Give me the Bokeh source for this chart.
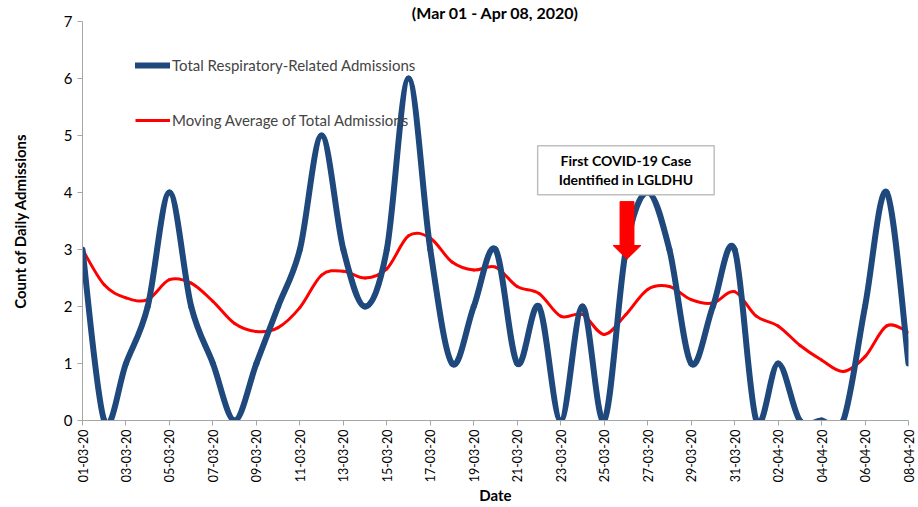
import numpy as np
from bokeh.plotting import figure
from bokeh.models import FixedTicker, Legend, LegendItem, Range1d, Title
from bokeh.core.properties import value
from bokeh.embed import file_html
from bokeh.resources import INLINE

# ---------------- data ----------------
dates = ["01-03-20", "02-03-20", "03-03-20", "04-03-20", "05-03-20", "06-03-20",
         "07-03-20", "08-03-20", "09-03-20", "10-03-20", "11-03-20", "12-03-20",
         "13-03-20", "14-03-20", "15-03-20", "16-03-20", "17-03-20", "18-03-20",
         "19-03-20", "20-03-20", "21-03-20", "22-03-20", "23-03-20", "24-03-20",
         "25-03-20", "26-03-20", "27-03-20", "28-03-20", "29-03-20", "30-03-20",
         "31-03-20", "01-04-20", "02-04-20", "03-04-20", "04-04-20", "05-04-20",
         "06-04-20", "07-04-20", "08-04-20"]
admissions = [3, 0, 1, 2, 4, 2, 1, 0, 1, 2, 3, 5, 3, 2, 3, 6, 3, 1, 2, 3,
              1, 2, 0, 2, 0, 3, 4, 3, 1, 2, 3, 0, 1, 0, 0, 0, 2, 4, 1]
moving_avg = [3.00, 2.38, 2.15, 2.12, 2.47, 2.41, 2.09, 1.70, 1.56, 1.63,
              1.98, 2.55, 2.62, 2.50, 2.66, 3.24, 3.20, 2.78, 2.64, 2.69,
              2.35, 2.23, 1.83, 1.86, 1.51, 1.86, 2.30, 2.35, 2.12, 2.06,
              2.26, 1.83, 1.66, 1.32, 1.06, 0.86, 1.12, 1.66, 1.55]
y_ticks = [0, 1, 2, 3, 4, 5, 6, 7]
note_lines = ["First COVID-19 Case", "Identified in LGLDHU"]
first_case_day = "26-03-20"

FONT = "Lato"
BLUE = "#1F497D"
RED = "#FF0000"

x_idx = list(range(len(dates)))


def smooth_segments(xs, ys):
    """Bezier control points (Catmull-Rom style) like a spreadsheet's smoothed line."""
    x = np.asarray(xs, float)
    y = np.asarray(ys, float)
    n = len(x)
    xp = np.concatenate([[x[0]], x, [x[-1]]])
    yp = np.concatenate([[y[0]], y, [y[-1]]])
    p0x, p1x, p2x, p3x = xp[0:n - 1], xp[1:n], xp[2:n + 1], xp[3:n + 2]
    p0y, p1y, p2y, p3y = yp[0:n - 1], yp[1:n], yp[2:n + 1], yp[3:n + 2]
    return dict(x0=p1x, y0=p1y, x1=p2x, y1=p2y,
                cx0=p1x + (p2x - p0x) / 6, cy0=p1y + (p2y - p0y) / 6,
                cx1=p2x - (p3x - p1x) / 6, cy1=p2y - (p3y - p1y) / 6)


p = figure(width=918, height=507, x_range=Range1d(0, len(dates) - 1),
           y_range=Range1d(0, 7), output_backend="svg", toolbar_location=None,
           min_border_left=82, min_border_right=10, min_border_top=0,
           min_border_bottom=80, background_fill_color="white",
           border_fill_color="white", outline_line_color=None)

p.title = Title(text="(Mar 01 - Apr 08, 2020)", align="center",
                text_font=FONT, text_font_size="16px", text_font_style="bold",
                text_color="black", standoff=0, offset=0)

p.xgrid.visible = False
p.ygrid.visible = False

# axes
for ax in (p.xaxis[0], p.yaxis[0]):
    ax.axis_line_color = "#A6A6A6"
    ax.major_tick_line_color = "#A6A6A6"
    ax.minor_tick_line_color = None
    ax.major_tick_in = 0
    ax.major_tick_out = 5
    ax.major_label_text_font = FONT
    ax.major_label_text_color = "black"
    ax.axis_label_text_font = FONT
    ax.axis_label_text_font_style = "bold"
    ax.axis_label_text_color = "black"

p.yaxis.ticker = FixedTicker(ticks=y_ticks)
p.yaxis.major_label_text_font_size = "15px"
p.yaxis.axis_label = "Count of Daily Admissions"
p.yaxis.axis_label_text_font_size = "15px"
p.yaxis.axis_label_standoff = 32

p.xaxis.ticker = FixedTicker(ticks=x_idx[::2])
p.xaxis.major_label_overrides = {i: dates[i] for i in x_idx}
p.xaxis.major_label_orientation = np.pi / 2
p.xaxis.major_label_text_font_size = "12.5px"
p.xaxis.major_label_standoff = 4
p.xaxis.axis_label = "Date"
p.xaxis.axis_label_text_font_size = "15px"
p.xaxis.axis_label_standoff = 1

# smoothed lines
ma = smooth_segments(x_idx, moving_avg)
p.bezier(source=ma, x0="x0", y0="y0", x1="x1", y1="y1", cx0="cx0", cy0="cy0",
         cx1="cx1", cy1="cy1", line_color=RED, line_width=3, line_cap="round")
adm = smooth_segments(x_idx, admissions)
p.bezier(source=adm, x0="x0", y0="y0", x1="x1", y1="y1", cx0="cx0", cy0="cy0",
         cx1="cx1", cy1="cy1", line_color=BLUE, line_width=6, line_cap="round")

# legend (styled like the source: no box); legend proxies sit outside the visible range
leg_adm = p.line(x=[-5, -4], y=[-5, -5], line_color=BLUE, line_width=6, line_cap="round")
leg_ma = p.line(x=[-5, -4], y=[-5, -5], line_color=RED, line_width=3)
legend = Legend(items=[LegendItem(label="Total Respiratory-Related Admissions", renderers=[leg_adm]),
                       LegendItem(label="Moving Average of Total Admissions", renderers=[leg_ma])],
                location=(53, 290), padding=0, margin=0, spacing=35,
                glyph_width=35, glyph_height=20, label_height=20, label_standoff=2,
                label_text_font=FONT, label_text_font_size="15px",
                background_fill_alpha=0, border_line_alpha=0)
p.add_layout(legend)

# annotation: first case
ax_c = dates.index(first_case_day) + 0.05
p.patch(x=[ax_c - 0.32, ax_c + 0.32, ax_c + 0.32, ax_c + 0.64, ax_c, ax_c - 0.64, ax_c - 0.32],
        y=[3.84, 3.84, 3.07, 3.07, 2.83, 3.07, 3.07],
        fill_color=RED, line_color=RED, line_width=1)
p.quad(left=[20.94], right=[29.06], top=[4.82], bottom=[3.96],
       fill_color="white", line_color="#BFBFBF", line_width=1.5)
p.text(x=[25.0, 25.0], y=[4.56, 4.23], text=note_lines,
       text_font=value(FONT), text_font_style="bold", text_font_size="14px",
       text_align="center", text_baseline="middle", text_color="black")

open("out.html", "w").write(file_html(p, INLINE))
